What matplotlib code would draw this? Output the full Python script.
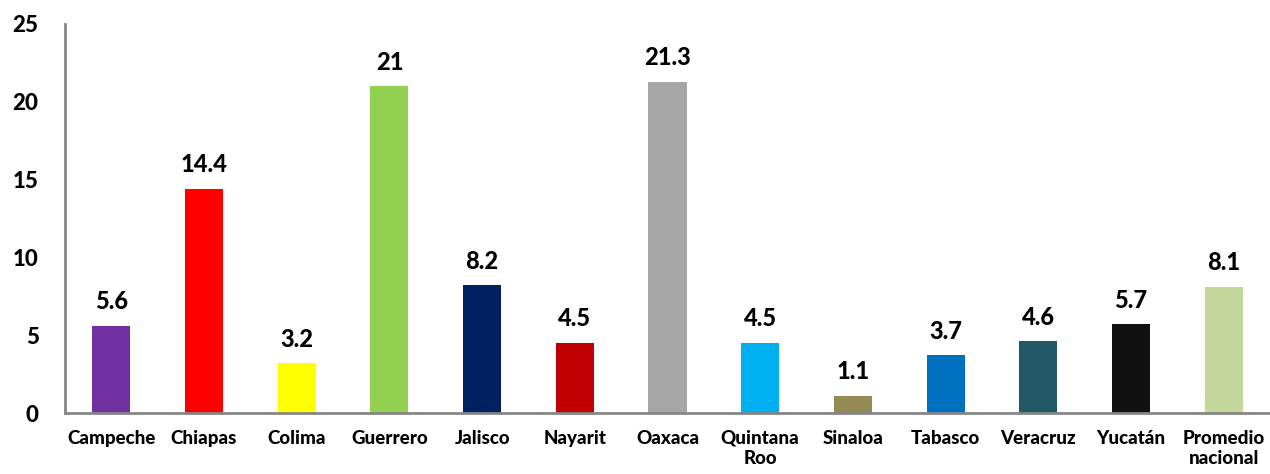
import matplotlib
matplotlib.use("Agg")
import matplotlib.pyplot as plt

estados = ["Campeche", "Chiapas", "Colima", "Guerrero", "Jalisco", "Nayarit", "Oaxaca",
           "Quintana\nRoo", "Sinaloa", "Tabasco", "Veracruz", "Yucatán", "Promedio\nnacional"]
valores = [5.6, 14.4, 3.2, 21, 8.2, 4.5, 21.3, 4.5, 1.1, 3.7, 4.6, 5.7, 8.1]
etiquetas = ["5.6", "14.4", "3.2", "21", "8.2", "4.5", "21.3", "4.5", "1.1", "3.7", "4.6", "5.7", "8.1"]
colores = ["#7030A0", "#FF0000", "#FFFF00", "#92D050", "#002060", "#C00000", "#A6A6A6",
           "#00B0F0", "#948A54", "#0070C0", "#215967", "#111111", "#C4D79B"]

plt.rcParams['font.family'] = ['Lato', 'DejaVu Sans']
peso = "black"

fig = plt.figure(figsize=(12.7, 4.74), dpi=100)
ax = fig.add_axes([65/1270, 1 - 413/474, 1 - 65/1270, (413 - 24)/474])

x = range(len(estados))
bars = ax.bar(x, valores, width=0.41, color=colores)

for xi, v, t in zip(x, valores, etiquetas):
    ax.annotate(t, (xi, v), xytext=(0, 9), textcoords="offset points",
                ha="center", va="bottom", fontsize=17, fontweight=peso)

ax.set_xlim(-0.5, len(estados) - 0.5)
ax.set_ylim(0, 25)
ax.set_yticks([0, 5, 10, 15, 20, 25])
ax.set_yticklabels(["0", "5", "10", "15", "20", "25"], fontsize=16, fontweight=peso)
ax.set_xticks(list(x))
ax.set_xticklabels(estados, fontsize=13.5, fontweight=peso, linespacing=1.25)
ax.tick_params(axis="y", length=0, pad=19)
ax.tick_params(axis="x", length=0, pad=12)

for s in ["top", "right"]:
    ax.spines[s].set_visible(False)
for s in ["left", "bottom"]:
    ax.spines[s].set_color("#868686")
    ax.spines[s].set_linewidth(2)

plt.savefig("out.png", dpi=100)
